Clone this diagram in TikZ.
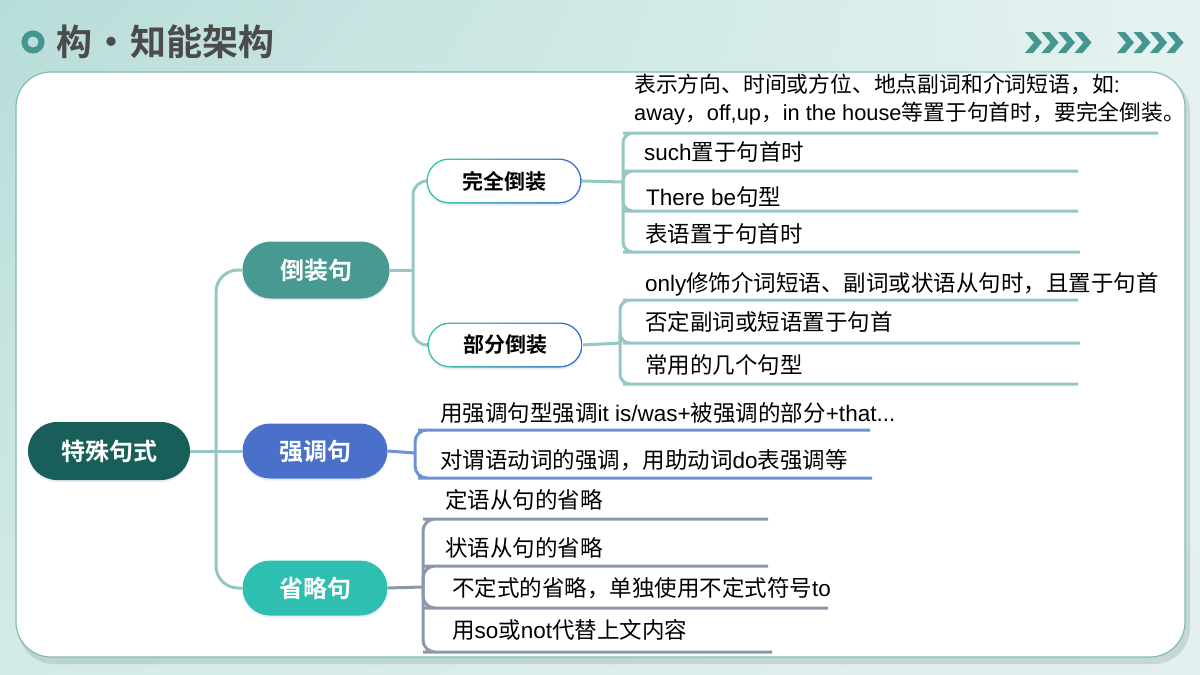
\documentclass[tikz,border=0pt]{standalone}
\usepackage{fontspec}
\setmainfont{Noto Sans CJK SC}[BoldFont={Noto Sans CJK SC Bold}]
\newfontfamily\enf{Liberation Sans}[BoldFont={Liberation Sans Bold}]
\newcommand\EN[1]{{\enf #1}}
\usetikzlibrary{shapes.misc,shadows,shadings}
\definecolor{bgA}{HTML}{B8DDD9}
\definecolor{bgB}{HTML}{E6F3F2}
\definecolor{bgC}{HTML}{D3EBE7}
\definecolor{bgD}{HTML}{E2F0EF}
\definecolor{cardline}{HTML}{7FBDB6}
\definecolor{tealdk}{HTML}{43978E}
\definecolor{titlec}{HTML}{4B4B4B}
\definecolor{rootc}{HTML}{175F58}
\definecolor{invc}{HTML}{479A91}
\definecolor{emphc}{HTML}{4A70C9}
\definecolor{ellc}{HTML}{2FBFB1}
\definecolor{lineT}{HTML}{95C7C5}
\definecolor{lineB}{HTML}{6F91D8}
\definecolor{lineG}{HTML}{8D97AB}
\definecolor{gA}{HTML}{2EC39A}
\definecolor{gB}{HTML}{3366CC}
\begin{document}
\begin{tikzpicture}[x=1pt,y=-1pt,
  mainnode/.style={rounded rectangle, inner sep=0pt, text=white,
    font=\bfseries\fontsize{24}{24}\selectfont,
    drop shadow={shadow xshift=0pt, shadow yshift=-2pt, opacity=0.12, fill=gB}},
  subnode/.style={rounded rectangle, inner sep=0pt, minimum height=45pt, minimum width=155pt,
    fill=white, text=black, font=\bfseries\fontsize{21}{21}\selectfont,
    drop shadow={shadow xshift=0pt, shadow yshift=-2pt, opacity=0.12, fill=gB},
    path picture={\shade[left color=gA, right color=gB] (path picture bounding box.south west) rectangle (path picture bounding box.north east);
      \fill[white, rounded corners=21pt] ([shift={(1.4pt,1.4pt)}]path picture bounding box.south west) rectangle ([shift={(-1.4pt,-1.4pt)}]path picture bounding box.north east);}},
  item/.style={anchor=west, inner sep=0pt, text=black, align=left, font=\fontsize{22.5}{28}\selectfont},
  conn/.style={line width=3pt},
  chev/.style={fill=tealdk}
]
\useasboundingbox (0,0) rectangle (1200,675);
% background
\shade[upper left=bgA, upper right=bgB, lower left=bgC, lower right=bgD] (0,0) rectangle (1200,675);
% card shadow
\fill[black!40!bgC, opacity=0.25, rounded corners=36pt] (18,76) rectangle (1190,664);
\fill[white, draw=cardline, line width=1.2pt, rounded corners=35pt] (16,72) rectangle (1185,657);
% title
\draw[tealdk, line width=6pt] (33,42) circle[radius=8.5];
\node[anchor=west, inner sep=0pt, text=titlec, font=\bfseries\fontsize{36}{36}\selectfont] (title) at (56,42) {构\hspace{1pt}·\hspace{1pt}知能架构};
% chevrons
\foreach \cx in {1025,1041.5,1058,1074.5,1117,1133.5,1150,1166.5}
  \fill[chev] (\cx,32) -- ++(8,0) -- ++(9,10.5) -- ++(-9,10.5) -- ++(-8,0) -- ++(9,-10.5) -- cycle;

% nodes
\node[mainnode, fill=rootc, minimum width=162pt, minimum height=58pt] (root) at (109,451) {特殊句式};
\node[mainnode, fill=invc, minimum width=147pt, minimum height=57pt] (b1) at (316,270) {倒装句};
\node[mainnode, fill=emphc, minimum width=145pt, minimum height=55pt] (b2) at (315,451) {强调句};
\node[mainnode, fill=ellc, minimum width=145pt, minimum height=55pt] (b3) at (315,588) {省略句};
\node[subnode] (c1) at (504,181) {完全倒装};
\node[subnode] (c2) at (505,345) {部分倒装};

% junction coordinates
\coordinate (t1) at (216,451);
\coordinate (t2) at (413,270);
\coordinate (k1) at (623,182);
\coordinate (k2) at (620,343);
\coordinate (k3) at (415,453);
\coordinate (k4) at (423,587);

% main trunk
\draw[conn, lineT] (root.east) -- (b2.west);
\draw[conn, lineT, rounded corners=22pt] (b1.west) -| (t1) |- (b3.west);
\draw[conn, lineT] (b1.east) -- (t2);
\draw[conn, lineT, rounded corners=14pt] (c1.west) -| (t2) |- (c2.west);

% items: 完全倒装
\node[item, font=\fontsize{21.8}{28}\selectfont] (i1) at (634,100) {表示方向、时间或方位、地点副词和介词短语，如\EN{:}\\\EN{away}，\EN{off,up}，\EN{in the house}等置于句首时，要完全倒装。};
\node[item] (i2) at (644,152) {\EN{such}置于句首时};
\node[item] (i3) at (646,197) {\EN{There be}句型};
\node[item] (i4) at (645,234) {表语置于句首时};
\coordinate (i1s) at (633,133); \coordinate (i1e) at (1158,133);
\coordinate (i2s) at (633,171); \coordinate (i2e) at (1078,171);
\coordinate (i3s) at (633,211); \coordinate (i3e) at (1078,211);
\coordinate (i4s) at (633,252); \coordinate (i4e) at (1080,252);
\draw[conn, lineT] (c1.east) -- (k1);
\foreach \n in {i1,i2,i3,i4}
  \draw[conn, lineT, rounded corners=10pt] (k1) |- (\n s) -- (\n e);

% items: 部分倒装
\node[item] (j1) at (645,284) {\EN{only}修饰介词短语、副词或状语从句时，且置于句首};
\node[item] (j2) at (645,322) {否定副词或短语置于句首};
\node[item] (j3) at (645,365) {常用的几个句型};
\coordinate (j1s) at (633,300); \coordinate (j1e) at (1078,300);
\coordinate (j2s) at (633,343); \coordinate (j2e) at (1080,343);
\coordinate (j3s) at (633,384); \coordinate (j3e) at (1078,384);
\draw[conn, lineT] (c2.east) -- (k2);
\foreach \n in {j1,j2,j3}
  \draw[conn, lineT, rounded corners=10pt] (k2) |- (\n s) -- (\n e);

% items: 强调句
\node[item] (e1) at (440,413) {用强调句型强调\EN{it is/was+}被强调的部分\EN{+that...}};
\node[item] (e2) at (440,460) {对谓语动词的强调，用助动词\EN{do}表强调等};
\coordinate (e1s) at (430,430); \coordinate (e1e) at (870,430);
\coordinate (e2s) at (430,478); \coordinate (e2e) at (872,478);
\draw[conn, lineB] (b2.east) -- (k3);
\foreach \n in {e1,e2}
  \draw[conn, lineB, rounded corners=12pt] (k3) |- (\n s) -- (\n e);

% items: 省略句
\node[item] (s1) at (445,500) {定语从句的省略};
\node[item] (s2) at (445,548) {状语从句的省略};
\node[item] (s3) at (452,588) {不定式的省略，单独使用不定式符号\EN{to}};
\node[item] (s4) at (452,630) {用\EN{so}或\EN{not}代替上文内容};
\coordinate (s1s) at (435,519); \coordinate (s1e) at (768,519);
\coordinate (s2s) at (435,566); \coordinate (s2e) at (768,566);
\coordinate (s3s) at (435,608); \coordinate (s3e) at (828,608);
\coordinate (s4s) at (435,652); \coordinate (s4e) at (772,652);
\draw[conn, lineG] (b3.east) -- (k4);
\foreach \n in {s1,s2,s3,s4}
  \draw[conn, lineG, rounded corners=12pt] (k4) |- (\n s) -- (\n e);
\end{tikzpicture}
\end{document}
